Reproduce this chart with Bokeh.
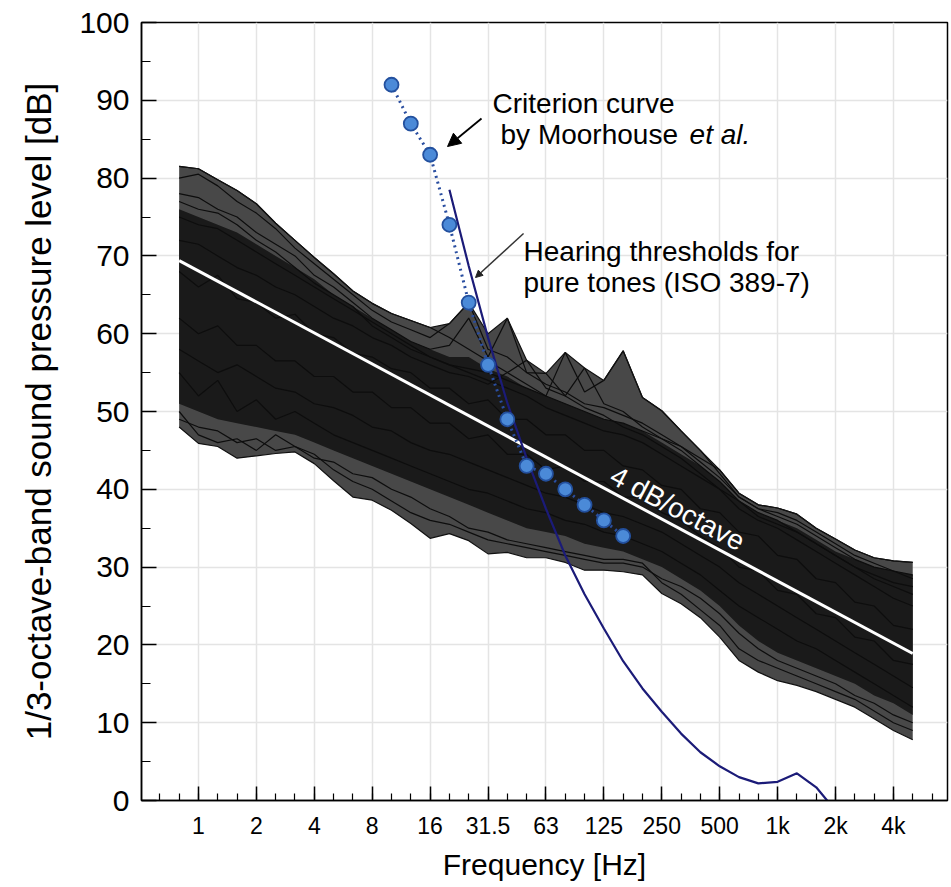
import math
from bokeh.plotting import figure
from bokeh.models import FixedTicker, Label, Arrow, NormalHead, Range1d
from bokeh.embed import file_html
from bokeh.resources import INLINE

# ---------------- data ----------------
BAND_HZ = [0.8, 1, 1.25, 1.6, 2, 2.5, 3.15, 4, 5, 6.3, 8, 10, 12.5, 16, 20, 25,
           31.5, 40, 50, 63, 80, 100, 125, 160, 200, 250, 315, 400, 500, 630,
           800, 1000, 1250, 1600, 2000, 2500, 3150, 4000, 5000]

OCTAVE_HZ = [1, 2, 4, 8, 16, 31.5, 63, 125, 250, 500, 1000, 2000, 4000]
OCTAVE_LABELS = ["1", "2", "4", "8", "16", "31.5", "63", "125", "250", "500",
                 "1k", "2k", "4k"]

# envelope of the measured spectra (dB)
ENV_UPPER = [81.5, 81.2, 79.8, 78.4, 76.7, 74.2, 72.0, 69.8, 67.7, 65.5,
             63.9, 62.6, 61.7, 60.8, 61.3, 64.0, 60.0, 62.0, 56.6, 54.9,
             57.6, 55.6, 54.0, 57.8, 51.8, 50.1, 47.5, 45.0, 42.5, 39.5,
             38.0, 37.6, 36.8, 35.0, 33.6, 32.2, 31.2, 30.8, 30.6]
ENV_LOWER = [48.0, 45.9, 45.5, 44.0, 44.3, 44.6, 44.8, 43.3, 41.1, 39.0,
             38.6, 37.3, 35.6, 33.7, 34.3, 33.4, 31.7, 31.9, 31.2, 31.2,
             30.6, 29.6, 29.6, 29.4, 29.0, 26.6, 25.3, 23.5, 21.0, 18.0,
             16.5, 15.4, 14.8, 14.0, 13.0, 12.0, 10.5, 9.0, 7.8]
# densest part of the bundle
CORE_UPPER = [76, 75, 74, 73, 71.5, 70, 68.5, 67, 65, 63.5,
              62, 60.5, 59, 58, 57, 57, 55.5, 54.5, 53, 52,
              51, 50, 49, 48.5, 47.5, 46, 44.5, 43, 41, 38.5,
              37, 36, 35, 33.5, 32, 31, 30, 29.5, 29]
CORE_LOWER = [51, 50, 49, 48.5, 48, 47.5, 47, 46, 45, 44,
              43, 42, 41, 40, 39, 38, 37, 36, 35, 34.5,
              34, 33, 32.5, 32, 31, 30, 28.5, 27, 25, 22.5,
              20.5, 19, 18, 17, 16, 15, 13.5, 12.5, 11]

# individual spectra (a selection)
spec_01 = [81.5, 81.2, 79.8, 78.4, 76.7, 74.2, 72.0, 69.8, 67.7, 65.5,
           63.9, 62.6, 61.7, 60.8, 59.5, 58.0, 56.5, 55.0, 53.5, 52.0,
           51.0, 50.0, 49.0, 48.5, 47.5, 46.5, 45.5, 44.0, 42.5, 39.5,
           38.0, 37.6, 36.8, 35.0, 33.6, 32.2, 31.2, 30.8, 30.6]
spec_02 = [80.0, 80.5, 79.0, 77.0, 75.5, 73.5, 71.0, 69.0, 67.0, 65.0,
           63.0, 61.5, 60.5, 59.5, 61.3, 64.0, 58.0, 57.0, 55.0, 53.5,
           52.5, 51.0, 50.5, 49.5, 48.5, 47.0, 45.5, 43.5, 41.5, 39.0,
           37.5, 36.5, 35.5, 34.0, 32.5, 31.0, 30.0, 29.5, 29.0]
spec_03 = [78.0, 77.5, 76.0, 75.0, 73.0, 71.5, 70.0, 67.5, 66.0, 64.0,
           62.0, 60.5, 59.0, 58.0, 58.5, 62.0, 57.0, 62.0, 55.0, 54.9,
           52.0, 50.5, 49.5, 48.0, 47.0, 45.5, 44.0, 42.0, 40.0, 38.5,
           37.0, 36.0, 34.5, 33.0, 31.5, 30.0, 29.0, 28.0, 27.5]
spec_04 = [75.0, 74.0, 73.5, 72.0, 70.5, 69.0, 67.5, 66.0, 64.5, 63.0,
           61.5, 60.0, 58.5, 57.0, 56.0, 55.5, 55.0, 54.0, 53.0, 52.0,
           57.6, 52.5, 54.0, 57.8, 51.8, 50.1, 47.5, 45.0, 42.0, 39.0,
           37.5, 37.0, 36.0, 34.5, 33.0, 31.5, 30.5, 29.5, 28.5]
spec_05 = [72.0, 71.5, 70.0, 68.5, 67.5, 66.0, 65.0, 63.5, 62.0, 61.0,
           59.5, 58.5, 57.0, 56.0, 55.0, 54.5, 53.5, 55.0, 56.6, 53.0,
           52.0, 55.6, 51.0, 50.0, 48.0, 46.5, 45.0, 43.0, 41.0, 38.5,
           36.5, 35.5, 34.5, 33.0, 31.5, 30.0, 28.5, 27.5, 26.5]
spec_06 = [68.0, 66.0, 67.5, 64.5, 64.0, 62.0, 62.5, 60.0, 59.5, 57.5,
           57.0, 55.5, 55.0, 53.0, 53.0, 51.0, 51.5, 49.0, 49.0, 47.0,
           47.0, 45.0, 45.0, 43.0, 42.5, 40.5, 40.0, 37.5, 37.0, 34.5,
           34.0, 31.5, 31.0, 28.5, 28.0, 25.5, 25.0, 22.5, 22.0]
spec_07 = [62.0, 60.0, 61.0, 58.5, 58.5, 56.5, 56.5, 54.5, 54.5, 52.5,
           52.5, 50.5, 50.5, 48.5, 48.5, 46.5, 47.0, 44.5, 44.5, 42.5,
           43.0, 41.0, 41.0, 39.0, 39.0, 37.0, 36.0, 34.0, 32.5, 30.0,
           29.5, 27.0, 26.5, 24.0, 23.5, 21.0, 20.5, 18.0, 17.5]
spec_08 = [55.0, 52.0, 54.0, 50.0, 51.5, 49.0, 50.0, 48.5, 47.0, 46.0,
           45.0, 44.0, 43.0, 42.0, 41.0, 40.0, 39.5, 38.5, 37.5, 37.0,
           36.0, 35.5, 34.5, 34.0, 33.0, 32.0, 30.5, 29.0, 27.0, 25.0,
           23.5, 22.0, 20.5, 19.5, 18.0, 16.5, 15.0, 13.5, 12.0]
spec_09 = [50.0, 47.0, 46.0, 46.5, 45.0, 47.0, 45.5, 44.5, 42.5, 41.0,
           40.0, 38.5, 37.0, 36.0, 35.5, 34.5, 33.5, 33.0, 32.5, 32.0,
           31.5, 31.0, 30.5, 30.5, 30.0, 28.5, 27.5, 26.0, 24.0, 21.5,
           19.5, 18.0, 17.0, 16.0, 15.0, 13.5, 12.5, 11.0, 10.0]
spec_10 = [58.0, 56.5, 55.0, 56.0, 54.5, 53.0, 52.5, 51.0, 50.5, 49.5,
           48.0, 47.5, 46.0, 45.0, 44.5, 43.5, 42.5, 41.5, 40.5, 39.5,
           39.0, 38.0, 37.0, 36.5, 35.5, 34.5, 33.0, 31.5, 30.0, 28.0,
           26.5, 25.0, 23.5, 22.0, 20.5, 19.0, 17.5, 16.0, 14.5]
spec_11 = [77.0, 76.0, 75.5, 74.0, 72.0, 70.5, 68.5, 66.5, 65.0, 63.5,
           61.0, 59.5, 58.0, 57.0, 56.0, 55.0, 54.0, 53.0, 52.0, 50.5,
           49.5, 48.5, 47.5, 47.0, 46.0, 44.5, 43.0, 41.5, 40.0, 37.5,
           36.0, 35.0, 33.5, 32.0, 30.5, 29.0, 27.5, 26.0, 25.0]
spec_12 = [49.0, 48.0, 47.5, 46.0, 46.5, 45.0, 45.5, 44.0, 43.5, 42.0,
           41.5, 40.0, 39.0, 37.5, 36.5, 35.0, 34.5, 33.5, 33.0, 32.5,
           32.0, 31.5, 31.0, 31.0, 30.5, 28.0, 26.5, 24.5, 22.5, 19.5,
           18.0, 17.0, 16.0, 15.0, 14.0, 13.0, 11.5, 10.0, 9.0]
SPECTRA = [spec_01, spec_02, spec_03, spec_04, spec_05, spec_06,
           spec_07, spec_08, spec_09, spec_10, spec_11, spec_12]

# 4 dB/octave reference line
SLOPE_HZ = [0.8, 5000]
SLOPE_DB = [69.4, 18.9]

# Criterion curve by Moorhouse et al.
CRIT_HZ = [10, 12.5, 16, 20, 25, 31.5, 40, 50, 63, 80, 100, 125, 160]
CRIT_DB = [92, 87, 83, 74, 64, 56, 49, 43, 42, 40, 38, 36, 34]

# Hearing thresholds for pure tones (ISO 389-7)
ISO_HZ = [20, 25, 31.5, 40, 50, 63, 80, 100, 125, 160, 200, 250, 315, 400,
          500, 630, 800, 1000, 1250, 1600, 2000, 2500]
ISO_DB = [78.5, 68.7, 59.5, 51.1, 44.0, 37.5, 31.5, 26.5, 22.1, 17.9, 14.4,
          11.4, 8.6, 6.2, 4.4, 3.0, 2.2, 2.4, 3.5, 1.7, -1.3, -4.2]


def band_index(f):
    """position of a 1/3-octave band on the axis (1 Hz -> 0)"""
    return round(3 * math.log2(f))


bx = [band_index(f) for f in BAND_HZ]

FONT = "Liberation Sans"

p = figure(width=951, height=887, output_backend="svg", toolbar_location=None,
           x_range=Range1d(-2.95, 38.8), y_range=Range1d(0, 100),
           min_border_left=141, min_border_right=4, min_border_top=22,
           min_border_bottom=87)
p.background_fill_color = "white"
p.border_fill_color = "white"
p.outline_line_color = "black"
p.outline_line_width = 1.5

# grid
p.xgrid.ticker = FixedTicker(ticks=[band_index(f) for f in OCTAVE_HZ])
p.ygrid.ticker = FixedTicker(ticks=list(range(10, 100, 10)))
p.xgrid.grid_line_color = "#e4e4e4"
p.ygrid.grid_line_color = "#e4e4e4"
p.xgrid.grid_line_width = 1.5
p.ygrid.grid_line_width = 1.5

# axes
p.xaxis.ticker = FixedTicker(ticks=[band_index(f) for f in OCTAVE_HZ],
                             minor_ticks=list(range(-2, 39)))
p.xaxis.major_label_overrides = {band_index(f): lab
                                 for f, lab in zip(OCTAVE_HZ, OCTAVE_LABELS)}
p.yaxis.ticker = FixedTicker(ticks=list(range(0, 101, 10)),
                             minor_ticks=list(range(5, 100, 10)))
for ax in (p.xaxis[0], p.yaxis[0]):
    ax.axis_line_color = "black"
    ax.axis_line_width = 1.5
    ax.major_tick_line_color = "black"
    ax.minor_tick_line_color = "black"
    ax.major_tick_line_width = 1.5
    ax.minor_tick_line_width = 1.2
    ax.major_tick_out = 0
    ax.minor_tick_out = 0
    ax.major_label_text_font = FONT
    ax.major_label_text_color = "black"
    ax.axis_label_text_font = FONT
    ax.axis_label_text_font_style = "normal"
    ax.axis_label_text_color = "black"

p.xaxis.major_tick_in = 14
p.xaxis.minor_tick_in = 7
p.yaxis.major_tick_in = 15
p.yaxis.minor_tick_in = 9
p.xaxis.major_label_text_font_size = "23px"
p.yaxis.major_label_text_font_size = "30px"
p.xaxis.major_label_standoff = 12
p.yaxis.major_label_standoff = 12
p.xaxis.axis_label = "Frequency [Hz]"
p.yaxis.axis_label = "1/3-octave-band sound pressure level [dB]"
p.xaxis.axis_label_text_font_size = "30px"
p.yaxis.axis_label_text_font_size = "35px"
p.xaxis.axis_label_standoff = 6
p.yaxis.axis_label_standoff = 18

# bundle of measured spectra
p.varea(x=bx, y1=ENV_LOWER, y2=ENV_UPPER, fill_color="#484848")
p.varea(x=bx, y1=CORE_LOWER, y2=CORE_UPPER, fill_color="#1a1a1a")
for s in SPECTRA:
    p.line(bx, s, line_color="#0d0d0d", line_width=1.2)
p.line(bx, ENV_UPPER, line_color="#111111", line_width=1.2)
p.line(bx, ENV_LOWER, line_color="#111111", line_width=1.2)

# 4 dB/octave line
p.line([band_index(f) for f in SLOPE_HZ], SLOPE_DB, line_color="white",
       line_width=3)

# hearing threshold
p.line([band_index(f) for f in ISO_HZ], ISO_DB, line_color="#1b1b78",
       line_width=2.2)

# criterion curve
cx = [band_index(f) for f in CRIT_HZ]
p.line(cx, CRIT_DB, line_color="#2a4ea0", line_width=3, line_dash="dotted")
p.scatter(cx, CRIT_DB, size=14, marker="circle", fill_color="#4b8ad8",
          line_color="#23509e", line_width=1.8)

# annotations
def px_to_x(px):
    return (px - 198) / 19.3


def py_to_y(py):
    return (800 - py) / 7.78


def add_label(text, px, py, style="normal", color="black", angle=0.0,
              align="left", baseline="alphabetic", size="28px"):
    p.add_layout(Label(x=px_to_x(px), y=py_to_y(py), text=text,
                       text_font=FONT, text_font_size=size,
                       text_font_style=style, text_color=color,
                       angle=angle, text_align=align,
                       text_baseline=baseline))


add_label("Criterion curve", 492, 103)
add_label("by Moorhouse", 500, 134)
add_label("et al.", 689, 134, style="italic")
add_label("Hearing thresholds for", 523, 251)
add_label("pure tones (ISO 389-7)", 523, 282)
add_label("4 dB/octave", 677, 508, color="white", angle=-0.49,
          align="center", baseline="middle")

p.add_layout(Arrow(end=NormalHead(size=13, fill_color="black",
                                  line_color="black"),
                   x_start=px_to_x(481), y_start=py_to_y(118),
                   x_end=px_to_x(447), y_end=py_to_y(146),
                   line_color="black", line_width=1.8))
p.add_layout(Arrow(end=NormalHead(size=7, fill_color="#222222",
                                  line_color="#222222"),
                   x_start=px_to_x(523), y_start=py_to_y(233),
                   x_end=px_to_x(475), y_end=py_to_y(277),
                   line_color="#333333", line_width=1.5))

open("out.html", "w").write(file_html(p, INLINE))
